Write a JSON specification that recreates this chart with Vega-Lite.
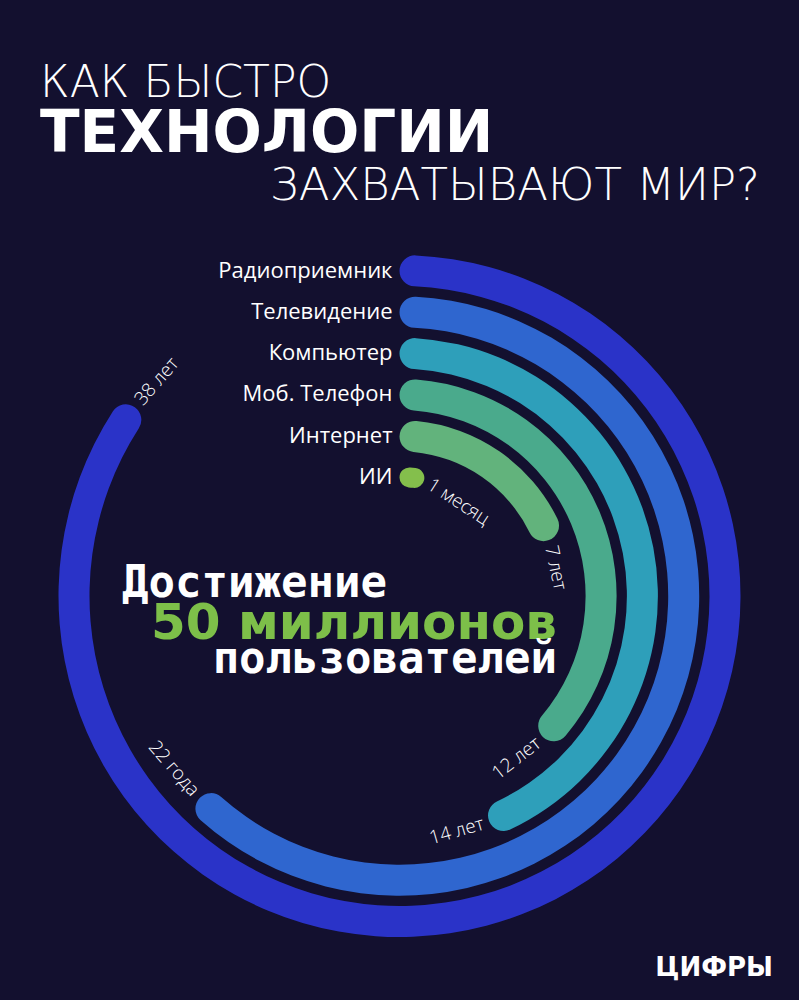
{
  "$schema": "https://vega.github.io/schema/vega-lite/v6.json",
  "background": "#13102f",
  "padding": {"left": 0, "right": 0, "top": 62, "bottom": 20},
  "config": {"view": {"stroke": null}, "concat": {"spacing": 0}, "font": "Open Sans"},
  "title": {"text": "ЦИФРЫ", "orient": "bottom", "anchor": "end", "font": "DejaVu Sans", "fontWeight": "bold", "fontSize": 26, "color": "#ffffff", "dx": -26, "offset": 12},
  "vconcat": [
    {
      "title": {
        "text": "КАК БЫСТРО",
        "subtitle": "ТЕХНОЛОГИИ",
        "anchor": "start",
        "dx": 40,
        "font": "DejaVu Sans",
        "fontWeight": 200,
        "fontSize": 44,
        "color": "#ffffff",
        "subtitleFont": "DejaVu Sans",
        "subtitleFontWeight": "bold",
        "subtitleFontSize": 58,
        "subtitleColor": "#ffffff",
        "subtitlePadding": 0,
        "offset": 0
      },
      "vconcat": [
        {
          "title": {"text": "ЗАХВАТЫВАЮТ МИР?", "anchor": "end", "dx": -39, "font": "DejaVu Sans", "fontWeight": 200, "fontSize": 45, "color": "#ffffff", "offset": 40},
          "width": 799,
          "height": 694,
          "data": {
            "values": [
              {"tech": "Радиоприемник", "years": 38, "label": "38 лет", "rank": 1},
              {"tech": "Телевидение", "years": 22, "label": "22 года", "rank": 2},
              {"tech": "Компьютер", "years": 14, "label": "14 лет", "rank": 3},
              {"tech": "Моб. Телефон", "years": 12, "label": "12 лет", "rank": 4},
              {"tech": "Интернет", "years": 7, "label": "7 лет", "rank": 5},
              {"tech": "ИИ", "years": 0.0833, "label": "1 месяц", "rank": 6}
            ]
          },
          "resolve": {"scale": {"angle": "independent"}},
          "layer": [
            {
              "transform": [{"filter": "datum.rank < 6"}],
              "mark": {"type": "arc", "cornerRadius": 20, "radiusOffset": 15.5, "radius2Offset": -15.5},
              "encoding": {
                "theta": {"field": "years", "type": "quantitative", "stack": null, "scale": {"type": "linear", "domain": [0, 0.0833, 7, 12, 14, 22, 38], "range": [0, 0.2094, 1.213, 2.3475, 2.7628, 3.9217, 5.332], "nice": false, "zero": false}},
                "radius": {"field": "rank", "type": "quantitative", "scale": {"type": "linear", "domain": [1, 6], "range": [325.5, 119], "nice": false, "zero": false}},
                "radius2": {"field": "rank"},
                "color": {"field": "tech", "type": "nominal", "legend": null, "scale": {"domain": ["Радиоприемник", "Телевидение", "Компьютер", "Моб. Телефон", "Интернет", "ИИ"], "range": ["#2a33c8", "#2f66cf", "#2e9fba", "#4aaa8c", "#62b37c", "#84bf4c"]}}
              }
            },
            {
              "transform": [{"filter": "datum.rank === 6"}],
              "mark": {"type": "arc", "cornerRadius": 20, "radiusOffset": 10, "radius2Offset": -10},
              "encoding": {
                "theta": {"field": "years", "type": "quantitative", "stack": null},
                "radius": {"field": "rank", "type": "quantitative"},
                "radius2": {"field": "rank"},
                "color": {"field": "tech", "type": "nominal", "legend": null}
              }
            },
            {
              "mark": {"type": "text", "align": "right", "baseline": "middle", "dx": -7, "font": "Open Sans", "fontSize": 22, "color": "#ffffff"},
              "encoding": {
                "theta": {"value": 0},
                "radius": {"field": "rank", "type": "quantitative"},
                "text": {"field": "tech"}
              }
            },
            {
              "transform": [{"filter": "datum.years < 10 || datum.years > 30"}],
              "mark": {"type": "text", "align": "left", "baseline": "middle", "dx": 6, "font": "Open Sans", "fontWeight": 300, "fontSize": 19, "color": "#ffffff"},
              "encoding": {
                "theta": {"field": "years", "type": "quantitative", "stack": null},
                "radius": {"field": "rank", "type": "quantitative"},
                "angle": {"field": "years", "type": "quantitative", "legend": null, "scale": {"domain": [0.0833, 7, 38], "range": [33, 78, 311], "nice": false, "zero": false}},
                "text": {"field": "label"}
              }
            },
            {
              "transform": [{"filter": "datum.years >= 10 && datum.years <= 30"}],
              "mark": {"type": "text", "align": "right", "baseline": "middle", "dx": -6, "font": "Open Sans", "fontWeight": 300, "fontSize": 19, "color": "#ffffff"},
              "encoding": {
                "theta": {"field": "years", "type": "quantitative", "stack": null},
                "radius": {"field": "rank", "type": "quantitative"},
                "angle": {"field": "years", "type": "quantitative", "legend": null, "scale": {"domain": [12, 14, 22], "range": [-38, -16, 49], "nice": false, "zero": false}},
                "text": {"field": "label"}
              }
            },
            {
              "data": {"values": [{"line": "Достижение"}]},
              "mark": {"type": "text", "align": "left", "baseline": "alphabetic", "dx": -277.5, "dy": 1, "font": "DejaVu Sans Mono", "fontWeight": "bold", "fontSize": 44, "color": "#ffffff"},
              "encoding": {"text": {"field": "line"}}
            },
            {
              "data": {"values": [{"line": "50 миллионов"}]},
              "mark": {"type": "text", "align": "right", "baseline": "alphabetic", "dx": 157.5, "dy": 43, "font": "DejaVu Sans", "fontWeight": "bold", "fontSize": 50, "color": "#7dbf49"},
              "encoding": {"text": {"field": "line"}}
            },
            {
              "data": {"values": [{"line": "пользователей"}]},
              "mark": {"type": "text", "align": "right", "baseline": "alphabetic", "dx": 157.5, "dy": 77, "font": "DejaVu Sans Mono", "fontWeight": "bold", "fontSize": 44, "color": "#ffffff"},
              "encoding": {"text": {"field": "line"}}
            }
          ]
        }
      ]
    }
  ]
}
